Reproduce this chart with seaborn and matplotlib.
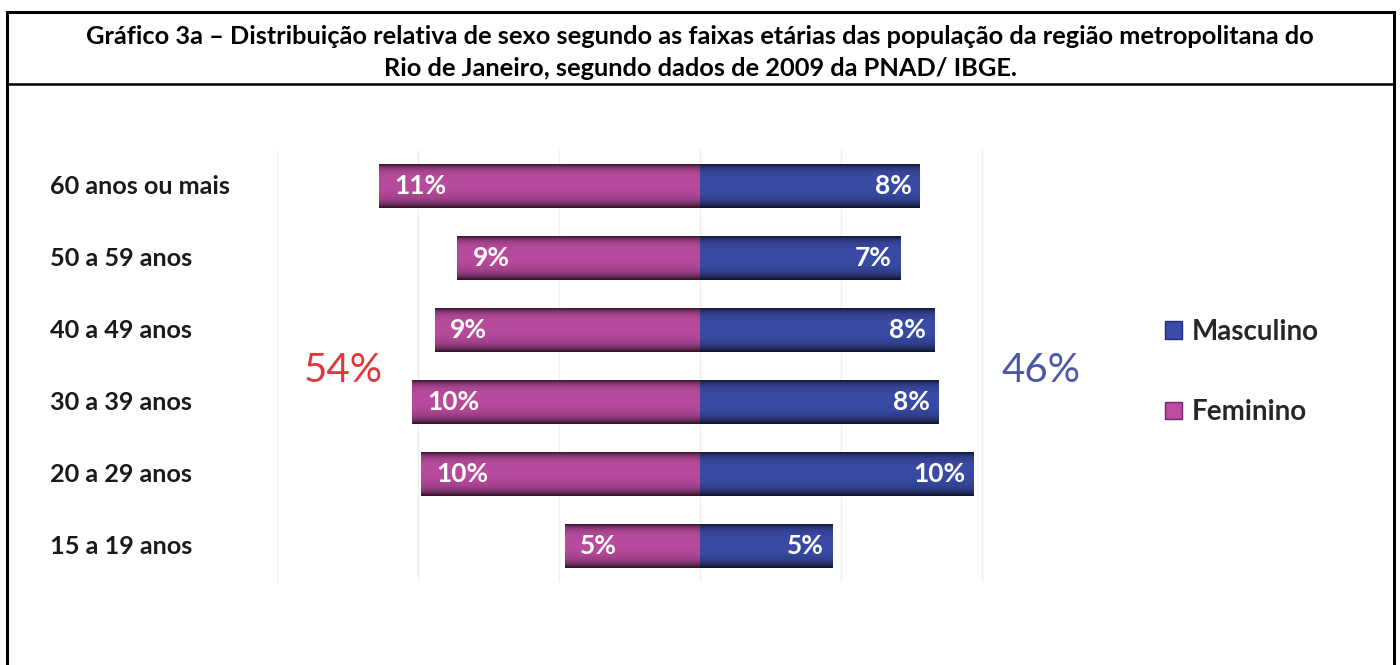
import numpy as np
import pandas as pd
import matplotlib
matplotlib.use("Agg")
import matplotlib.pyplot as plt
import seaborn as sns
from matplotlib.patches import Rectangle, Patch
from matplotlib.lines import Line2D
from matplotlib import transforms
from matplotlib.colors import to_rgb

# ---------------- data ----------------
faixas = ["60 anos ou mais", "50 a 59 anos", "40 a 49 anos",
          "30 a 39 anos", "20 a 29 anos", "15 a 19 anos"]
feminino = [11.4, 8.6, 9.4, 10.2, 9.9, 4.8]
masculino = [7.8, 7.1, 8.3, 8.45, 9.7, 4.7]
series = ["Masculino", "Feminino"]
titulo = ["Gráfico 3a – Distribuição relativa de sexo segundo as faixas etárias das população da região metropolitana do",
          "Rio de Janeiro, segundo dados de 2009 da PNAD/ IBGE."]

# ---------------- style ----------------
sns.set_theme(style="white")
plt.rcParams['font.family'] = ['Lato', 'DejaVu Sans']

PINK = "#bb4c9f"
BLUE = "#3a4ca8"
W, H = 1400, 665

fig = plt.figure(figsize=(W / 100, H / 100), dpi=100)
ax = fig.add_axes([277 / W, 1 - 582 / H, 846 / W, 432 / H])

df = pd.DataFrame({"faixa": faixas,
                   "Feminino": [-v for v in feminino],
                   "Masculino": masculino})

sns.barplot(data=df, y="faixa", x="Feminino", order=faixas, color=PINK,
            width=0.61, ax=ax, orient="h", saturation=1, zorder=2)
sns.barplot(data=df, y="faixa", x="Masculino", order=faixas, color=BLUE,
            width=0.61, ax=ax, orient="h", saturation=1, zorder=2)

# 3D-like vertical shading clipped to each bar
t = np.linspace(0, 1, 120)
prof = 1 - 0.72 * np.exp(-t / 0.09) - 0.78 * np.exp(-(1 - t) / 0.13)
prof = np.clip(prof, 0.15, 1)
for p in list(ax.patches):
    base = np.array(to_rgb(p.get_facecolor()))
    arr = (prof[:, None] * base[None, :])[:, None, :]
    x0, y0 = p.get_x(), p.get_y()
    x1, y1 = x0 + p.get_width(), y0 + p.get_height()
    im = ax.imshow(arr, extent=(x0, x1, y0, y1), origin="lower",
                   aspect="auto", zorder=3, interpolation="bilinear")
    im.set_clip_path(p)

ax.set_xlim(-15, 15)
ax.set_ylim(5.5, -0.5)
ax.set_xticks([-15, -10, -5, 0, 5, 10, 15])
ax.set_xticklabels([])
ax.set_yticks([])
ax.set_xlabel("")
ax.set_ylabel("")
ax.grid(axis="x", color="#efefef", lw=1, zorder=0)
for s in ax.spines.values():
    s.set_visible(False)

# value labels
for i in range(len(faixas)):
    ax.annotate(f"{feminino[i]:.0f}%", (-feminino[i], i), xytext=(11, 0),
                textcoords="offset points", ha="left", va="center",
                color="white", fontsize=19, weight="bold", zorder=5)
    ax.annotate(f"{masculino[i]:.0f}%", (masculino[i], i), xytext=(-6, 0),
                textcoords="offset points", ha="right", va="center",
                color="white", fontsize=19, weight="bold", zorder=5)

# category labels
trans = transforms.blended_transform_factory(fig.transFigure, ax.transData)
for i, f in enumerate(faixas):
    ax.text(50 / W, i, f, transform=trans, ha="left", va="center",
            fontsize=18.2, weight="bold", color="#1a1a1a", clip_on=False)

# totals
ax.text(-12.65, 2.56, f"{sum(feminino):.0f}%", color="#e0383a", fontsize=29,
        ha="center", va="center")
ax.text(12.1, 2.56, f"{sum(masculino):.0f}%", color="#4a58aa", fontsize=29,
        ha="center", va="center")

# legend
handles = [Patch(facecolor=BLUE, edgecolor="#1f2c80"),
           Patch(facecolor=PINK, edgecolor="#7a2070")]
fig.legend(handles, series, loc="upper left",
           bbox_to_anchor=(1165 / W, 1 - 319 / H), frameon=False,
           prop={"size": 20, "weight": "bold"}, handlelength=0.6,
           handleheight=0.6, handletextpad=0.35, labelspacing=1.95,
           borderpad=0, borderaxespad=0)

# frame and title
fig.add_artist(Rectangle((7 / W, -0.05), (1394 - 7) / W, 1.05 - 12 / H,
                         transform=fig.transFigure, fill=False, lw=2.2,
                         ec="black"))
fig.add_artist(Line2D([7 / W, 1394 / W], [1 - 84 / H] * 2,
                      transform=fig.transFigure, color="black", lw=1.8))
fig.text(700 / W, 1 - 36 / H, titulo[0], ha="center", va="center",
         fontsize=18.3, weight="bold", color="black")
fig.text(700 / W, 1 - 68 / H, titulo[1], ha="center", va="center",
         fontsize=18.3, weight="bold", color="black")

fig.savefig("out.png", dpi=100)
